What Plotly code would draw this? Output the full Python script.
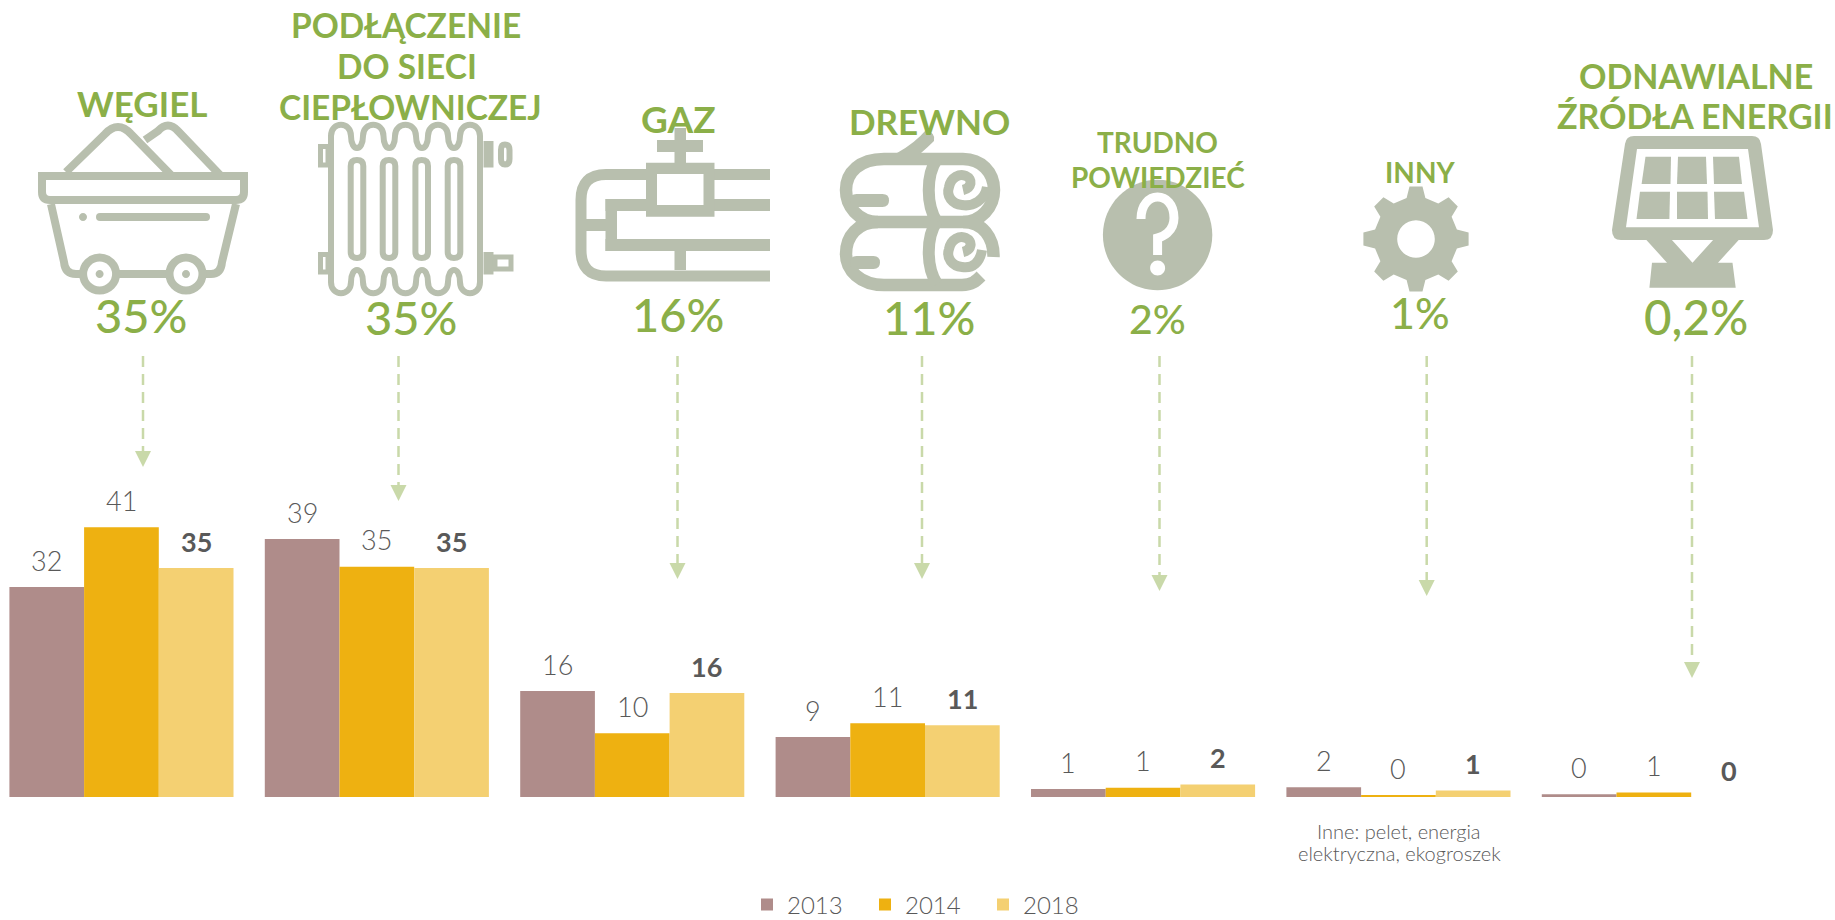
import math, re
import plotly.graph_objects as go

W, H = 1835, 920
categories = ["Węgiel", "Podłączenie do sieci ciepłowniczej", "Gaz", "Drewno", "Trudno powiedzieć", "Inny", "Odnawialne źródła energii"]
years = ["2013", "2014", "2018"]
values_2013 = [31.9, 39.2, 16.1, 9.1, 1.2, 1.5, 0.4]
values_2014 = [41.0, 35.0, 9.7, 11.2, 1.4, 0.3, 0.7]
values_2018 = [34.8, 34.8, 15.8, 10.9, 1.9, 1.0, 0.0]
labels_2013 = ["32", "39", "16", "9", "1", "2", "0"]
labels_2014 = ["41", "35", "10", "11", "1", "0", "1"]
labels_2018 = ["35", "35", "16", "11", "2", "1", "0"]
colors = ["#AF8C8A", "#EEB111", "#F4D072"]
titles = [("WĘGIEL", 142, 103, 35), ("PODŁĄCZENIE", 406, 25, 33.5), ("DO SIECI", 406.7, 66, 33.5), ("CIEPŁOWNICZEJ", 410.7, 107, 33.5),
          ("GAZ", 678.5, 119, 37), ("DREWNO", 929, 120.5, 35), ("TRUDNO", 1157, 142, 28), ("POWIEDZIEĆ", 1158, 177, 28),
          ("INNY", 1420, 172, 28), ("ODNAWIALNE", 1696, 76, 34), ("ŹRÓDŁA ENERGII", 1695, 116, 34)]
percents = [("35%", 141, 315, 47), ("35%", 411, 317.5, 47), ("16%", 678, 314, 47), ("11%", 929, 316.5, 47),
            ("2%", 1157, 318, 41), ("1%", 1420, 312, 43), ("0,2%", 1696, 317, 47.5)]
notes = [("Inne: pelet, energia", 1399, 831), ("elektryczna, ekogroszek", 1399, 853)]
arrows = [(143, 467), (398.5, 501), (677.5, 579), (922, 579), (1159.5, 591), (1426.7, 596), (1692, 678)]

GREEN, ICON, ARROW, TEXT = "#8BAF48", "#B8BFAE", "#C9D9A9", "#595959"
FONT = "Lato"

def px(d):
    parts = re.findall(r"[A-Za-z]|-?\d+\.?\d*", d)
    out, i = [], 0
    for t in parts:
        if t.isalpha():
            out.append(t)
        else:
            v = float(t)
            out.append(f"{v / W:.5f}" if i % 2 == 0 else f"{1 - v / H:.5f}")
            i += 1
    return " ".join(out)

shapes = []
def add(d, fill=None, stroke=None, width=0, dash=None, evenodd=False):
    s = dict(type="path", xref="paper", yref="paper", path=px(d), layer="above",
             fillcolor=fill or "rgba(0,0,0,0)",
             line=dict(color=stroke or "rgba(0,0,0,0)", width=width))
    if dash:
        s["line"]["dash"] = dash
    if evenodd:
        s["fillrule"] = "evenodd"
    shapes.append(s)

def ell(cx, cy, rx, ry=None):
    ry = ry or rx
    k = 0.5523
    return (f"M {cx-rx},{cy} C {cx-rx},{cy-k*ry} {cx-k*rx},{cy-ry} {cx},{cy-ry} "
            f"C {cx+k*rx},{cy-ry} {cx+rx},{cy-k*ry} {cx+rx},{cy} "
            f"C {cx+rx},{cy+k*ry} {cx+k*rx},{cy+ry} {cx},{cy+ry} "
            f"C {cx-k*rx},{cy+ry} {cx-rx},{cy+k*ry} {cx-rx},{cy} Z")

def rect(x0, y0, x1, y1):
    return f"M {x0},{y0} L {x1},{y0} L {x1},{y1} L {x0},{y1} Z"

def pill(x0, y0, x1, y1):
    r = (y1 - y0) / 2
    return (f"M {x0+r},{y0} L {x1-r},{y0} Q {x1},{y0} {x1},{y0+r} Q {x1},{y1} {x1-r},{y1} "
            f"L {x0+r},{y1} Q {x0},{y1} {x0},{y0+r} Q {x0},{y0} {x0+r},{y0} Z")

# --- cart
add("M 66,172 L 105,134 Q 118,120 131,134 L 172,176", stroke=ICON, width=8)
add("M 145,140 L 158,131 Q 168,120 178,131 L 221,176", stroke=ICON, width=8)
add("M 42,176 L 244,176 L 244,192 Q 244,200 236,200 L 50,200 Q 42,200 42,192 Z", stroke=ICON, width=8)
add("M 51,204 L 64,262 Q 65,274 76,274 L 211,274 Q 221,274 222,262 L 236,204", stroke=ICON, width=8)
add(ell(83, 217, 4), fill=ICON)
add(pill(96, 213, 210, 221), fill=ICON)
for cx in (99.6, 186):
    add(ell(cx, 274, 16.5), fill="white", stroke=ICON, width=8)
    add(ell(cx, 274, 4), fill=ICON)

# --- radiator
xs = [331, 351, 363, 383.5, 395, 416, 428, 448, 460, 480]
top = f"M {xs[0]},136 "
for i in range(len(xs) - 1):
    c = 121 if i % 2 == 0 else 152
    top += f"C {xs[i]},{c} {xs[i+1]},{c} {xs[i+1]},136 "
rev = f"L {xs[-1]},282 "
for i in range(len(xs) - 1, 0, -1):
    c = 297 if (i - 1) % 2 == 0 else 266
    rev += f"C {xs[i]},{c} {xs[i-1]},{c} {xs[i-1]},282 "
add(top + rev + "Z", stroke=ICON, width=6)
for cx in (357, 389, 421.7, 454):
    add(f"M {cx-6.3},166 Q {cx-6.3},160 {cx},160 Q {cx+6.3},160 {cx+6.3},166 L {cx+6.3},252 "
        f"Q {cx+6.3},258 {cx},258 Q {cx-6.3},258 {cx-6.3},252 Z", stroke=ICON, width=6)
add(rect(320.5, 146.5, 328, 165), stroke=ICON, width=5)
add(rect(320.5, 254.5, 328, 272), stroke=ICON, width=5)
add(rect(486, 143.5, 491, 165), stroke=ICON, width=5)
add(rect(486, 254.5, 491, 272), stroke=ICON, width=5)
add("M 501,150 Q 501,144.5 505,144.5 Q 509.5,144.5 509.5,150 L 509.5,159 Q 509.5,164.5 505,164.5 Q 501,164.5 501,159 Z",
    stroke=ICON, width=6)
add(rect(495, 257, 511, 269), stroke=ICON, width=5)

# --- pipes
add("M 646,174.5 L 606,174.5 Q 581,174.5 581,200 L 581,250 Q 581,276 606,276 L 770,276", stroke=ICON, width=11)
for r in [(714, 169, 770, 180), (714, 199, 770, 211), (605.5, 199, 646, 211), (605.5, 199, 617, 251),
          (605.5, 239, 770, 251), (586, 219, 606, 231), (674.5, 251, 686, 270), (674.5, 128, 686, 163), (657, 140, 703, 152)]:
    add(rect(*r), fill=ICON)
add(rect(646, 162.7, 714.5, 216.7) + " " + rect(657, 174, 703.5, 205), fill=ICON, evenodd=True)

# --- logs
add("M 884,159 L 963,159 C 981,159 994,172 994,190 C 994,207 981,222 963,222 L 878,222 C 858,222 846,206 846,190 C 846,172 860,159 884,159 Z",
    stroke=ICON, width=12.5)
add("M 878,222 C 858,222 846,236 846,254 C 846,270 860,285 884,285 L 962,285 C 972,285 976,281 981,276", stroke=ICON, width=12.5)
add("M 963,222 C 983,222 994,238 993.5,257", stroke=ICON, width=12.5)
for dy in (0, 62):
    add(f"M 937,{159+dy} C 926,{175+dy} 926,{205+dy} 937,{222+dy}", stroke=ICON, width=12)
add("M 987,187 C 985,200 973,207 962,205 C 952,204 946,196 949,187 C 951,177 960,173 966,176 C 973,179 972,188 963,190",
    stroke=ICON, width=10)
add("M 982,250 C 980,262 973,269 962,267 C 952,266 946,258 949,249 C 951,239 960,235 966,238 C 973,241 972,250 963,252",
    stroke=ICON, width=10)
add("M 897,153 Q 915,143 926,130 Q 936,133 934,141 Q 928,147 921,153 Z", fill=ICON)
add(pill(850, 194, 889, 207), fill=ICON)
add(pill(850, 256, 880, 269), fill=ICON)

# --- question mark
add(ell(1157.6, 235, 54.7, 55.3), fill=ICON)
add("M 1141,219 C 1141,190 1174,190 1174,218 C 1174,232 1162,237 1157.6,238 L 1157.6,255", stroke="white", width=9)
add(ell(1157.6, 268, 7.5), fill="white")

# --- gear
cx, cy = 1416, 239
pts = []
for k in range(8):
    a = math.radians(k * 45 - 90)
    for r, da in [(42, -13), (53, -7), (53, 7), (42, 13)]:
        t = a + math.radians(da)
        pts.append(f"{cx + r * math.cos(t):.1f},{cy + r * math.sin(t):.1f}")
add("M " + " L ".join(pts) + " Z " + ell(cx, cy, 18.8, 18.7), fill=ICON, evenodd=True)

# --- solar panel
add("M 1634,136 L 1752,136 Q 1760,136 1761,144 L 1773,230 Q 1773,240 1764,240 L 1621,240 Q 1612,240 1612,230 L 1625,144 Q 1626,136 1634,136 Z "
    "M 1637,149 L 1748,149 L 1759,227.3 L 1626,227.3 Z", fill=ICON, evenodd=True)
for quad in ["M 1645.5,156.7 L 1671,156.7 L 1670.5,184 L 1641.6,184 Z", "M 1678,156.7 L 1706,156.7 L 1707,184 L 1677,184 Z",
             "M 1713,156.7 L 1739,156.7 L 1742,184 L 1714,184 Z", "M 1640,191.7 L 1670,191.7 L 1669.4,219 L 1636.5,219 Z",
             "M 1677,191.7 L 1707.5,191.7 L 1708,219 L 1677,219 Z", "M 1714,191.7 L 1744,191.7 L 1747.5,219 L 1715,219 Z"]:
    add(quad, fill=ICON)
add("M 1645.5,239 L 1671,239 L 1692.5,262.7 L 1714,239 L 1739.6,239 L 1718,262.7 L 1732.5,262.7 L 1735.7,287.7 L 1649.4,287.7 L 1652,262.7 L 1667,262.7 Z", fill=ICON)

# --- arrows
for x, tip in arrows:
    add(f"M {x},356 L {x},{tip-15}", stroke=ARROW, width=2.5, dash="11px,7px")
    add(f"M {x-8},{tip-16} L {x+8},{tip-16} L {x},{tip} Z", fill=ARROW)

fig = go.Figure()
series = [values_2013, values_2014, values_2018]
for y, v, c in zip(years, series, colors):
    fig.add_bar(name=y, x=categories, y=v, marker=dict(color=c, line=dict(width=0)))

BARGAP = 31.3 / 255.4
bw = (1 - BARGAP) / 3
ann = []
for j, labs in enumerate([labels_2013, labels_2014, labels_2018]):
    for i, t in enumerate(labs):
        ann.append(dict(x=i + (j - 1) * bw, y=series[j][i], xref="x", yref="y", yshift=27, text=t, showarrow=False,
                        yanchor="middle", xanchor="center",
                        font=dict(family=FONT, size=27, color=TEXT, weight=700 if j == 2 else 300)))
def paper(x, y):
    return dict(x=x / W, y=1 - y / H, xref="paper", yref="paper", showarrow=False, xanchor="center", yanchor="middle")
for t, x, y, s in titles:
    ann.append(dict(**paper(x, y), text=t, align="center", font=dict(family=FONT, size=s, color=GREEN, weight=700)))
for t, x, y, s in percents:
    ann.append(dict(**paper(x, y), text=t, font=dict(family=FONT, size=s, color=GREEN, weight=500)))
for t, x, y in notes:
    ann.append(dict(**paper(x, y), text=t, font=dict(family=FONT, size=20, color=TEXT, weight=300)))

fig.update_layout(
    width=W, height=H, margin=dict(l=0, r=0, t=0, b=0, autoexpand=False), autosize=False,
    paper_bgcolor="white", plot_bgcolor="white", barmode="group", bargap=BARGAP, bargroupgap=0,
    xaxis=dict(range=[-121.45 / 255.4, (W - 121.45) / 255.4], visible=False, type="category"),
    yaxis=dict(range=[-(H - 797) / 6.58, 797 / 6.58], visible=False),
    showlegend=True,
    legend=dict(orientation="h", x=747 / W, y=1 - 905 / H, xanchor="left", yanchor="middle",
                font=dict(family=FONT, size=24, color=TEXT, weight=300), itemwidth=30, entrywidth=73, entrywidthmode="pixels",
                traceorder="normal", bgcolor="rgba(0,0,0,0)", itemclick=False, itemdoubleclick=False),
    shapes=shapes, annotations=ann,
)
fig.write_html("out.html", config={"displayModeBar": False}, post_script="document.body.style.margin='0';")
